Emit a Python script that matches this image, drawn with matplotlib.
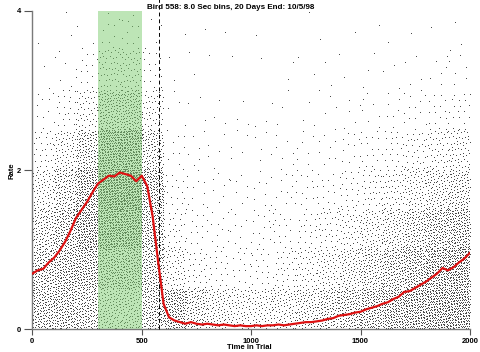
import numpy as np
import matplotlib
matplotlib.use("Agg")
import matplotlib.pyplot as plt

plt.rcParams["font.family"] = ["Liberation Sans", "DejaVu Sans"]

# red curve: mean rate, every 25 time units
curve_time = np.arange(0, 2001, 25)
curve_rate = [
    0.70, 0.74, 0.76, 0.84, 0.90, 0.99, 1.10, 1.24, 1.40, 1.50,
    1.60, 1.72, 1.83, 1.88, 1.93, 1.92, 1.97, 1.95, 1.93, 1.86,
    1.93, 1.80, 1.42, 0.85, 0.32, 0.15, 0.11, 0.09, 0.07, 0.09,
    0.07, 0.06, 0.07, 0.06, 0.05, 0.06, 0.05, 0.04, 0.05, 0.04,
    0.04, 0.05, 0.04, 0.05, 0.05, 0.06, 0.05, 0.06, 0.07, 0.08,
    0.09, 0.09, 0.10, 0.11, 0.13, 0.14, 0.17, 0.18, 0.19, 0.21,
    0.22, 0.25, 0.27, 0.29, 0.32, 0.34, 0.38, 0.41, 0.47, 0.48,
    0.52, 0.56, 0.60, 0.65, 0.70, 0.77, 0.74, 0.78, 0.84, 0.89,
    0.96,
]

# dot cloud: estimated number of dots per cell
# columns = 100-unit time bins, rows = rate bands of 0.5 (0-0.5 ... 3.5-4)
bin_edges_x = np.arange(0, 2001, 100)
bin_edges_y = np.arange(0, 4.01, 0.5)
dot_counts = [
    [170, 160, 120, 75, 30, 10, 3, 1],
    [180, 190, 170, 130, 70, 22, 6, 2],
    [160, 200, 240, 220, 140, 50, 14, 3],
    [110, 190, 300, 350, 280, 140, 45, 10],
    [110, 190, 300, 360, 290, 150, 50, 12],
    [160, 160, 180, 190, 120, 50, 16, 4],
    [200, 60, 30, 18, 9, 4, 2, 1],
    [120, 30, 16, 10, 6, 3, 2, 1],
    [85, 20, 12, 8, 5, 3, 1, 1],
    [70, 16, 10, 8, 5, 3, 1, 0],
    [70, 20, 13, 9, 5, 3, 1, 1],
    [80, 30, 17, 11, 6, 3, 2, 0],
    [100, 45, 24, 14, 7, 3, 2, 1],
    [125, 65, 32, 17, 9, 4, 2, 1],
    [150, 90, 48, 24, 12, 5, 2, 1],
    [180, 120, 70, 35, 16, 7, 3, 1],
    [210, 155, 95, 50, 22, 9, 3, 1],
    [230, 190, 130, 70, 32, 12, 4, 1],
    [250, 225, 165, 95, 45, 16, 6, 2],
    [260, 245, 190, 115, 58, 20, 7, 2],
]

reward_window = (300, 500)
marker_time = 580

# spread the dots of each cell evenly (R2 low-discrepancy sequence)
a1, a2 = 0.7548776662466927, 0.5698402909980532
xs, ys = [], []
k = 0
for i, col in enumerate(dot_counts):
    for j, n in enumerate(col):
        idx = np.arange(k, k + n)
        u = (0.5 + idx * a1) % 1
        v = (0.5 + idx * a2) % 1
        xs.append(bin_edges_x[i] + u * (bin_edges_x[i + 1] - bin_edges_x[i]))
        ys.append(bin_edges_y[j] + v * (bin_edges_y[j + 1] - bin_edges_y[j]))
        k += n
xs = np.concatenate(xs)
ys = np.concatenate(ys)

fig = plt.figure(figsize=(4.8, 3.52), dpi=100)
ax = fig.add_axes([0.0673, 0.0645, 0.9117, 0.9045])

ax.plot(xs, ys, linestyle="none", marker=",", color="#4a4a4a", zorder=1)
ax.axvspan(*reward_window, color="#7ccd6e", alpha=0.5, linewidth=0, zorder=2)
ax.plot([marker_time, marker_time], [0, 4.15], color="black", linestyle=(0, (4, 3)),
        linewidth=0.7, clip_on=False, zorder=3)
ax.plot(curve_time, curve_rate, color="#dd1111", linewidth=1.6, zorder=4)

ax.set_xlim(0, 2000)
ax.set_ylim(0, 4)
ax.set_xticks([0, 500, 1000, 1500, 2000])
ax.set_yticks([0, 2, 4])
for s in ["top", "right"]:
    ax.spines[s].set_visible(False)
for s in ["left", "bottom"]:
    ax.spines[s].set_color("#7a7a7a")
    ax.spines[s].set_linewidth(1.0)
ax.tick_params(axis="both", colors="#555555", labelcolor="black", labelsize=5.5,
               width=0.8, direction="out")
ax.tick_params(axis="y", length=6, pad=2)
ax.tick_params(axis="x", length=4, pad=2)
for lab in ax.get_xticklabels() + ax.get_yticklabels():
    lab.set_fontweight("bold")

fig.text(0.48, 0.988, "Bird 558: 8.0 Sec bins, 20 Days End: 10/5/98",
         ha="center", va="top", fontsize=5.8, fontweight="bold")
fig.text(0.52, 0.002, "Time in Trial", ha="center", va="bottom",
         fontsize=5.5, fontweight="bold")
fig.text(0.025, 0.515, "Rate", ha="center", va="center", rotation=90,
         fontsize=5.5, fontweight="bold")

fig.savefig("out.png", dpi=100)
